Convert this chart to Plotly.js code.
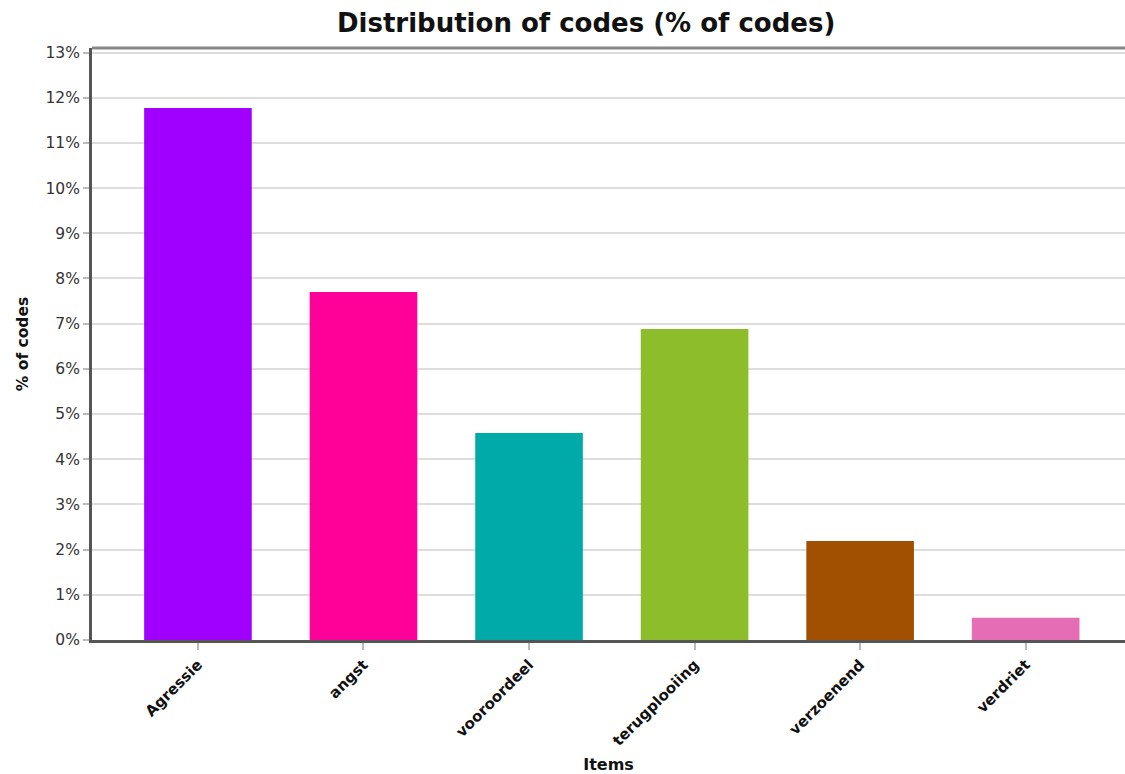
<!DOCTYPE html>
<html>
<head>
<meta charset="utf-8">
<script src="https://cdn.plot.ly/plotly-3.0.1.min.js"></script>
<style>html,body{margin:0;padding:0;background:#fff;}#chart{width:1125px;height:774px;}</style>
</head>
<body>
<div id="chart"></div>
<script>
const categories = ["Agressie", "angst", "vooroordeel", "terugplooiing", "verzoenend", "verdriet"];
const values = [11.77, 7.70, 4.58, 6.88, 2.19, 0.49];
const barColors = ["#A000FF", "#FF0099", "#00AAA8", "#8DBD2A", "#A05000", "#E56DB6"];
const yTicks = [0,1,2,3,4,5,6,7,8,9,10,11,12,13];
const yTickLabels = yTicks.map(v => v + "%");

const FONT = "DejaVu Sans, Verdana, sans-serif";

const trace = {
  type: "bar",
  x: categories,
  y: values,
  width: 0.65,
  marker: {color: barColors, line: {width: 0}},
  hoverinfo: "x+y"
};

const layout = {
  width: 1125, height: 774,
  margin: {l: 92, r: 0, t: 48, b: 134},
  paper_bgcolor: "#fff", plot_bgcolor: "#fff",
  font: {family: FONT, color: "#333", size: 14},
  title: {text: "<b>Distribution of codes (% of codes)</b>", x: 0.521, xanchor: "center", xref: "container", y: 0.971, yref: "container", yanchor: "middle",
          font: {family: FONT, size: 26, color: "#111"}},
  showlegend: false,
  xaxis: {
    type: "category",
    range: [-0.64, 5.6],
    tickangle: -45,
    ticks: "outside", ticklen: 7, tickwidth: 2, tickcolor: "#bbb",
    showline: true, linecolor: "#555", linewidth: 3,
    showgrid: false, zeroline: false,
    tickfont: {family: FONT, size: 15, color: "#111", weight: "bold"},
    title: {text: "<b>Items</b>", standoff: 28, font: {family: FONT, size: 16, color: "#111"}},
    automargin: false
  },
  yaxis: {
    range: [0, 13.1],
    tickmode: "array", tickvals: yTicks, ticktext: yTickLabels,
    ticks: "outside", ticklen: 6, tickwidth: 2, tickcolor: "#bbb",
    showline: true, linecolor: "#555", linewidth: 3,
    showgrid: true, gridcolor: "#ddd", gridwidth: 2,
    zeroline: false,
    tickfont: {family: FONT, size: 15.5, color: "#333"},
    title: {text: "<b>% of codes</b>", standoff: 14, font: {family: FONT, size: 15.5, color: "#111"}},
    automargin: false
  },
  shapes: [
    {type: "line", xref: "paper", yref: "paper", x0: 0, x1: 1, y0: 1, y1: 1, line: {color: "#888", width: 3}}
  ]
};

Plotly.newPlot("chart", [trace], layout, {displayModeBar: false, staticPlot: true});
</script>
</body>
</html>
